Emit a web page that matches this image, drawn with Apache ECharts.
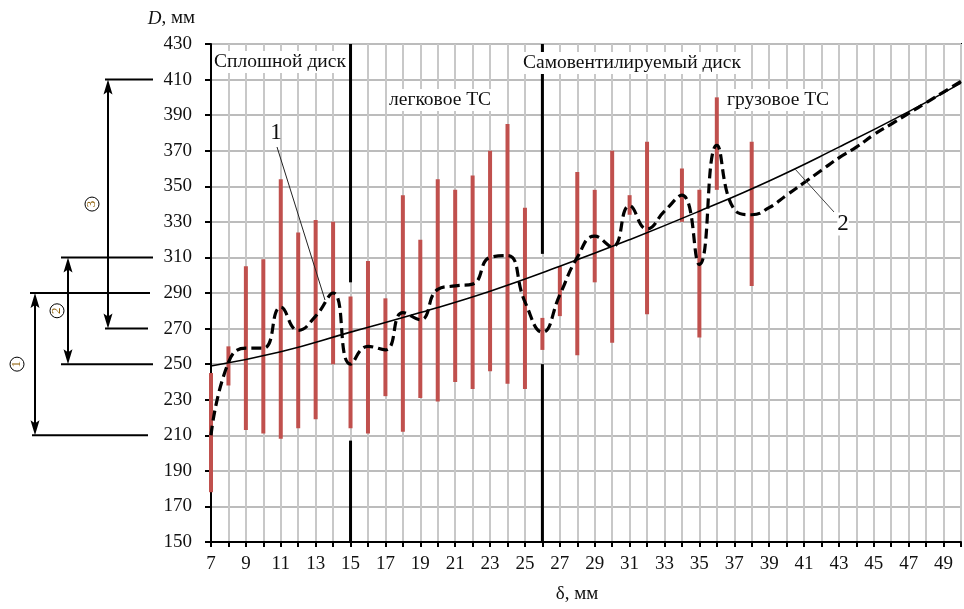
<!DOCTYPE html>
<html><head><meta charset="utf-8">
<script src="https://cdn.jsdelivr.net/npm/echarts@6/dist/echarts.min.js"></script>
<style>html,body{margin:0;padding:0;background:#fff}#c{width:964px;height:609px}</style>
</head><body><div id="c"></div>
<script>
// ---- data ----
const rangeX    = [7,8,9,10,11,12,13,14,15,16,17,18,19,20,21,22,23,24,25,26,27,28,29,30,31,32,34,35,36,38];
const rangeLow  = [178,238,213,211,208,214,219,250,214,211,232,212,231,229,240,236,246,239,236,258,277,255,296,262,334,278,330,265,348,294];
const rangeHigh = [245,260,305,309,354,324,331,330,288,308,287,345,320,354,348,356,370,385,338,276,305,358,348,370,345,375,360,348,400,375];
const meanX = [7,8,9,10,11,12,13,14,15,16,17,18,19,20,21,22,23,24,25,26,27,28,29,30,31,32,33,34,35,36,37,38,39,40,41,42,43,44,45,46,47,48,49,50];
const meanY = [210,251,259,259,282,269,277,290,250,260,258,279,275,292,294,295,310,311,285,268,289,310,322,316,339,326,336,345,306,373,337,334,338,345,352,359,366,372,379,385,391,397,403,409];
const trendX = [7,11,15,19,23,27,31,35,39,43,47,50];
const trendY = [249,257,268,279,291,305,320,336,353,372,392,408];
const sepX      = [15,15,26,26];
const sepTop    = [430,207,430,250];
const sepBottom = [296,150,312,150];
const xMin = 7, xMax = 50, xStep = 1;
const yMin = 150, yMax = 430, yStep = 20;
const zoneLabels = ['Сплошной диск','легковое ТС','Самовентилируемый диск','грузовое ТС'];
const dimLevels = [[210,290],[250,310],[270,410]]; // ① ② ③
const dimNames = ['1','2','3'];
const xName = 'δ, мм';

const FONT = '"Liberation Serif","Times New Roman",serif';
const chart = echarts.init(document.getElementById('c'), null, {renderer:'canvas'});

function segItem(color, width){
  return function(params, api){
    const p1 = api.coord([api.value(0), api.value(1)]);
    const p2 = api.coord([api.value(0), api.value(2)]);
    return {type:'line', shape:{x1:p1[0],y1:p1[1],x2:p2[0],y2:p2[1]},
            style:{stroke:color, lineWidth:width}};
  };
}

const option = {
  animation:false,
  grid:{left:211, right:3, top:44, bottom:64, show:true, borderColor:'#000', borderWidth:2},
  xAxis:{type:'value', min:xMin, max:xMax, interval:xStep,
    name:xName, nameLocation:'middle', nameGap:43,
    nameTextStyle:{fontFamily:FONT, fontSize:19, color:'#111', padding:[0,18,0,0]},
    axisLine:{lineStyle:{color:'#000', width:2}},
    axisTick:{show:true, length:5, lineStyle:{color:'#000', width:2}},
    axisLabel:{fontFamily:FONT, fontSize:19, color:'#111', margin:13,
      formatter:v => (v % 2 === 1 ? String(v) : '')},
    splitLine:{show:true, lineStyle:{color:'#c8c8c8', width:2}}
  },
  yAxis:{type:'value', min:yMin, max:yMax, interval:yStep,
    name:'{i|D}, мм', nameLocation:'end', nameGap:16,
    nameTextStyle:{fontFamily:FONT, fontSize:19, color:'#111', align:'right', padding:[0,16,0,0],
      rich:{i:{fontFamily:FONT, fontSize:19, fontStyle:'italic', color:'#111'}}},
    axisLine:{show:true, lineStyle:{color:'#000', width:2}},
    axisTick:{show:true, length:6, lineStyle:{color:'#000', width:2}},
    axisLabel:{fontFamily:FONT, fontSize:19, color:'#111', margin:19},
    splitLine:{show:true, lineStyle:{color:'#bcbcbc', width:2}}
  },
  series:[
    {type:'custom', name:'range', renderItem:segItem('#c0504d',4), encode:{x:0, y:[1,2]},
      data: rangeX.map((x,i)=>[x, rangeLow[i], rangeHigh[i]]), z:2},
    {type:'line', name:'trend', data: trendX.map((x,i)=>[x, trendY[i]]), smooth:true,
      showSymbol:false, lineStyle:{color:'#000', width:1.6}, z:3},
    {type:'line', name:'mean', data: meanX.map((x,i)=>[x, meanY[i]]), smooth:0.5,
      showSymbol:false, lineStyle:{color:'#000', width:3.2, type:[10,5]}, z:4},
    {type:'custom', name:'sep', renderItem:segItem('#000',3), encode:{x:0, y:[1,2]},
      data: sepX.map((x,i)=>[x, sepTop[i], sepBottom[i]]), z:5}
  ]
};
chart.setOption(option);

// ---- annotations ----
const yPx = v => chart.convertToPixel({yAxisIndex:0}, v);
const g = [];
const txt = (s, x, y, size, extra) => Object.assign({type:'text', x:x, y:y, z:20,
  style:Object.assign({text:s, fontFamily:FONT, fontSize:size, fill:'#111', verticalAlign:'middle'}, extra||{})});
g.push(txt(zoneLabels[0], 213, 62, 19.5, {backgroundColor:'#fff', padding:[1,1]}));
g.push(txt(zoneLabels[1], 388, 100, 19.5, {backgroundColor:'#fff', padding:[1,1]}));
g.push(txt(zoneLabels[2], 522, 63, 19.5, {backgroundColor:'#fff', padding:[1,1]}));
g.push(txt(zoneLabels[3], 726, 100, 19.5, {backgroundColor:'#fff', padding:[1,1]}));
g.push(txt('1', 276, 133, 23, {align:'center'}));
g.push({type:'line', z:20, shape:{x1:277,y1:147,x2:325,y2:300}, style:{stroke:'#222', lineWidth:1}});
g.push(txt('2', 843, 224, 23, {align:'center', backgroundColor:'#fff'}));
g.push({type:'line', z:19, shape:{x1:795,y1:169,x2:834,y2:212}, style:{stroke:'#444', lineWidth:1}});

// dimension lines
const hl = (v, x1, x2) => g.push({type:'line', z:20, shape:{x1:x1,y1:yPx(v),x2:x2,y2:yPx(v)}, style:{stroke:'#000', lineWidth:2}});
hl(410,105,153); hl(310,61,153); hl(290,30,150); hl(270,105,148); hl(250,61,153); hl(210,32,148);
const arrowX = [35, 68, 108];
const circleAt = [250, 280, 340];
const circleX = [17, 57, 92];
dimLevels.forEach((lv, i) => {
  const x = arrowX[i], yt = yPx(lv[1]), yb = yPx(lv[0]);
  g.push({type:'line', z:20, shape:{x1:x,y1:yt+10,x2:x,y2:yb-10}, style:{stroke:'#000', lineWidth:2}});
  g.push({type:'polygon', z:20, shape:{points:[[x,yt],[x-4.5,yt+15],[x,yt+12],[x+4.5,yt+15]]}, style:{fill:'#000'}});
  g.push({type:'polygon', z:20, shape:{points:[[x,yb],[x-4.5,yb-15],[x,yb-12],[x+4.5,yb-15]]}, style:{fill:'#000'}});
  const cx = circleX[i], cy = yPx(circleAt[i]);
  g.push({type:'circle', z:20, shape:{cx:cx, cy:cy, r:7}, style:{fill:'#fff', stroke:'#000', lineWidth:1}});
  g.push({type:'text', z:21, x:cx, y:cy, rotation:Math.PI/2,
    style:{text:dimNames[i], fontFamily:FONT, fontSize:13, fill:'#8a5a00', align:'center', verticalAlign:'middle'}});
});
chart.setOption({graphic:g});
</script></body></html>
